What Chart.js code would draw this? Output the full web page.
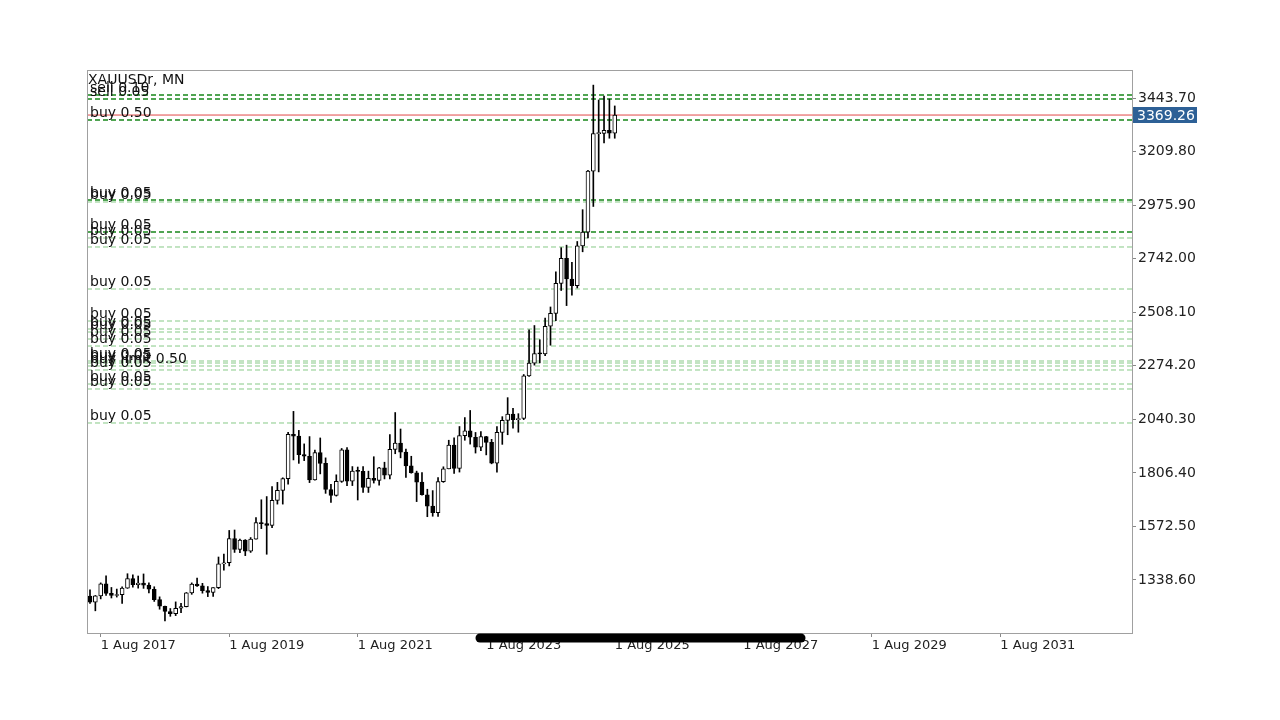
<!DOCTYPE html>
<html>
<head>
<meta charset="utf-8">
<title>XAUUSDr, MN</title>
<script src="https://cdn.jsdelivr.net/npm/chart.js@4.4.1/dist/chart.umd.min.js"></script>
<style>
  html, body { margin: 0; padding: 0; background: #fff; }
  #wrap { width: 1280px; height: 720px; }
</style>
</head>
<body>
<div id="wrap"><canvas id="chart" width="1280" height="720"></canvas></div>
<script>
// monthly candles, Jun 2017 .. Aug 2025 (index 0 = Jun 2017)
const opens = [
  1268, 1242, 1269, 1322, 1280, 1271, 1275,
  1303, 1345, 1318, 1325, 1316, 1298, 1253, 1224, 1201, 1192, 1215, 1222,
  1282, 1321, 1313, 1292, 1284, 1305, 1409, 1414, 1520, 1472, 1513, 1464,
  1517, 1589, 1585, 1577, 1686, 1730, 1781, 1975, 1967, 1886, 1879, 1776,
  1895, 1848, 1734, 1708, 1769, 1907, 1770, 1814, 1813, 1743, 1783, 1774,
  1829, 1796, 1909, 1937, 1897, 1837, 1807, 1766, 1711, 1661, 1633, 1768,
  1824, 1928, 1826, 1969, 1990, 1962, 1919, 1965, 1940, 1849, 1983, 2036,
  2063, 2039, 2044, 2230, 2286, 2327, 2326, 2447, 2503, 2634, 2744, 2653,
  2624, 2798, 2858, 3124, 3288, 3289, 3303, 3290
];
const highs = [
  1296, 1271, 1326, 1357, 1306, 1299, 1309,
  1366, 1361, 1356, 1365, 1326, 1309, 1265, 1225, 1214, 1243, 1237, 1284,
  1326, 1347, 1324, 1310, 1305, 1439, 1452, 1555, 1557, 1517, 1515, 1524,
  1611, 1689, 1703, 1747, 1765, 1785, 1984, 2075, 1992, 1933, 1965, 1906,
  1959, 1872, 1756, 1798, 1913, 1917, 1834, 1832, 1834, 1814, 1877, 1831,
  1853, 1974, 2070, 1998, 1910, 1879, 1814, 1808, 1735, 1729, 1786, 1833,
  1949, 1959, 2009, 2048, 2079, 1983, 1987, 1966, 1953, 2009, 2052, 2135,
  2088, 2065, 2236, 2431, 2450, 2388, 2483, 2531, 2685, 2790, 2801, 2726,
  2817, 2956, 3128, 3500, 3435, 3452, 3439, 3409
];
const lows = [
  1236, 1204, 1256, 1271, 1260, 1264, 1236,
  1302, 1307, 1303, 1302, 1282, 1245, 1211, 1160, 1180, 1183, 1196, 1221,
  1276, 1311, 1281, 1266, 1267, 1301, 1382, 1400, 1459, 1458, 1445, 1459,
  1517, 1563, 1451, 1567, 1670, 1670, 1757, 1863, 1848, 1860, 1764, 1775,
  1802, 1717, 1677, 1705, 1765, 1751, 1751, 1688, 1721, 1721, 1762, 1753,
  1780, 1780, 1890, 1872, 1787, 1805, 1681, 1709, 1615, 1617, 1616, 1765,
  1824, 1804, 1810, 1949, 1932, 1893, 1903, 1885, 1846, 1810, 1931, 1973,
  2002, 1984, 2039, 2228, 2277, 2287, 2318, 2364, 2471, 2603, 2537, 2583,
  2614, 2772, 2833, 2970, 3121, 3248, 3268, 3268
];
const closes = [
  1242, 1269, 1322, 1280, 1271, 1275, 1303,
  1345, 1318, 1325, 1316, 1298, 1253, 1224, 1201, 1192, 1215, 1222, 1282,
  1321, 1313, 1292, 1284, 1305, 1409, 1414, 1520, 1472, 1513, 1464, 1517,
  1589, 1585, 1577, 1686, 1730, 1781, 1975, 1967, 1886, 1879, 1776, 1895,
  1848, 1734, 1708, 1769, 1907, 1770, 1814, 1813, 1743, 1783, 1774, 1829,
  1796, 1909, 1937, 1897, 1837, 1807, 1766, 1711, 1661, 1633, 1768, 1824,
  1928, 1826, 1969, 1990, 1962, 1919, 1965, 1940, 1849, 1983, 2036, 2063,
  2039, 2044, 2230, 2286, 2327, 2326, 2447, 2503, 2634, 2744, 2653, 2624,
  2798, 2858, 3124, 3288, 3289, 3303, 3290, 3369.26
];
const currentPrice = 3369.26;

// order / position lines
const levelPrices = [
  3456.8, 3439.3, 3347.6, 2998.2, 2989.5, 2858.5, 2832.3, 2793.0, 2609.5,
  2469.7, 2434.8, 2421.7, 2391.1, 2360.5, 2295.0, 2286.3, 2273.2, 2255.8,
  2194.6, 2172.8, 2024.3
];
const levelLabels = [
  'sell 0.10', 'sell 0.05', 'buy 0.50', 'buy 0.05', 'buy 0.05', 'buy 0.05',
  'buy 0.05', 'buy 0.05', 'buy 0.05', 'buy 0.05', 'buy 0.05', 'buy 0.05',
  'buy 0.05', 'buy 0.05', 'buy 0.05', 'buy 0.05', 'buy limit 0.50', 'buy 0.05',
  'buy 0.05', 'buy 0.05', 'buy 0.05'
];
const levelDark = [true, true, true, true, false, true, false, false, false,
  false, false, false, false, false, false, false, false, false, false, false, false];

// axes
const yTicks = [3443.70, 3209.80, 2975.90, 2742.00, 2508.10, 2274.20, 2040.30, 1806.40, 1572.50, 1338.60];
const xTickPos = [2, 26, 50, 74, 98, 122, 146, 170];
const xTickLabels = ['1 Aug 2017', '1 Aug 2019', '1 Aug 2021', '1 Aug 2023',
  '1 Aug 2025', '1 Aug 2027', '1 Aug 2029', '1 Aug 2031'];

const xMin = -0.56, xMax = 194.6;
const yMin = 1107.1, yMax = 3566.0;

const bodyData = opens.map((o, i) => ({ x: i, y: [o, closes[i]] }));
const wickData = highs.map((h, i) => ({ x: i, y: [lows[i], h] }));
const bodyColors = opens.map((o, i) => closes[i] >= o ? '#ffffff' : '#000000');

const levelSets = levelPrices.map((p, i) => ({
  type: 'line',
  data: [{ x: xMin, y: p }, { x: xMax, y: p }],
  borderColor: levelDark[i] ? '#17871a' : '#86c986',
  borderWidth: levelDark[i] ? 1.3 : 1,
  borderDash: [5, 3],
  pointRadius: 0,
  fill: false,
  order: 3
}));

const overlay = {
  id: 'overlay',
  afterDatasetsDraw(chart) {
    const ctx = chart.ctx;
    const ca = chart.chartArea;
    const ys = chart.scales.y;
    ctx.save();
    // frame
    ctx.strokeStyle = '#a0a0a0';
    ctx.lineWidth = 1;
    ctx.strokeRect(ca.left + 0.5, ca.top + 0.5, ca.right - ca.left, ca.bottom - ca.top);

    // symbol caption
    ctx.fillStyle = '#111';
    ctx.font = '14px "DejaVu Sans"';
    ctx.textAlign = 'left';
    ctx.textBaseline = 'alphabetic';
    ctx.fillText('XAUUSDr, MN', ca.left + 1, ca.top + 14);

    // line captions
    levelPrices.forEach((p, i) => {
      const y = ys.getPixelForValue(p);
      ctx.fillText(levelLabels[i], ca.left + 3, y - 3);
    });

    // current price tag
    const cy = Math.round(ys.getPixelForValue(currentPrice));
    ctx.fillStyle = '#2d6096';
    ctx.fillRect(ca.right + 1, cy - 8, 64, 16);
    ctx.fillStyle = '#ffffff';
    ctx.textBaseline = 'middle';
    ctx.fillText(currentPrice.toFixed(2), ca.right + 5, cy + 1);

    // marker stroke over the time axis
    ctx.strokeStyle = '#000';
    ctx.lineCap = 'round';
    ctx.lineWidth = 9;
    ctx.beginPath();
    ctx.moveTo(480, 638);
    ctx.lineTo(801, 638);
    ctx.stroke();
    ctx.restore();
  }
};

new Chart(document.getElementById('chart').getContext('2d'), {
  type: 'bar',
  data: {
    datasets: [
      {
        type: 'line',
        data: [{ x: xMin, y: currentPrice }, { x: xMax, y: currentPrice }],
        borderColor: '#e24848',
        borderWidth: 1,
        pointRadius: 0,
        fill: false,
        order: 4
      },
      ...levelSets,
      {
        type: 'bar',
        data: wickData,
        backgroundColor: '#000000',
        borderWidth: 0,
        barThickness: 1,
        grouped: false,
        order: 2
      },
      {
        type: 'bar',
        data: bodyData,
        backgroundColor: bodyColors,
        borderColor: '#000000',
        borderWidth: 1,
        borderSkipped: false,
        barThickness: 4,
        minBarLength: 1,
        grouped: false,
        order: 1
      }
    ]
  },
  options: {
    responsive: false,
    animation: false,
    devicePixelRatio: 1,
    layout: { padding: { left: 87, top: 70, right: 0, bottom: 0 } },
    plugins: {
      legend: { display: false },
      tooltip: { enabled: false },
      title: { display: false }
    },
    scales: {
      x: {
        type: 'linear',
        position: 'bottom',
        min: xMin,
        max: xMax,
        offset: false,
        afterBuildTicks: s => { s.ticks = xTickPos.map(v => ({ value: v })); },
        afterFit: s => { s.height = 87; },
        grid: { drawOnChartArea: false, tickLength: 4, color: '#888', offset: false },
        border: { display: true, color: '#a0a0a0' },
        ticks: {
          autoSkip: false,
          maxRotation: 0,
          align: 'start',
          padding: 1,
          color: '#222',
          font: { family: 'DejaVu Sans', size: 13 },
          callback: (v, i) => xTickLabels[i]
        }
      },
      y: {
        type: 'linear',
        position: 'right',
        min: yMin,
        max: yMax,
        afterBuildTicks: s => { s.ticks = yTicks.map(v => ({ value: v })); },
        afterFit: s => { s.width = 148; },
        grid: { drawOnChartArea: false, tickLength: 4, color: '#888' },
        border: { display: true, color: '#a0a0a0' },
        ticks: {
          padding: 2,
          color: '#222',
          font: { family: 'DejaVu Sans', size: 14 },
          callback: v => v.toFixed(2)
        }
      }
    }
  },
  plugins: [overlay]
});
</script>
</body>
</html>
